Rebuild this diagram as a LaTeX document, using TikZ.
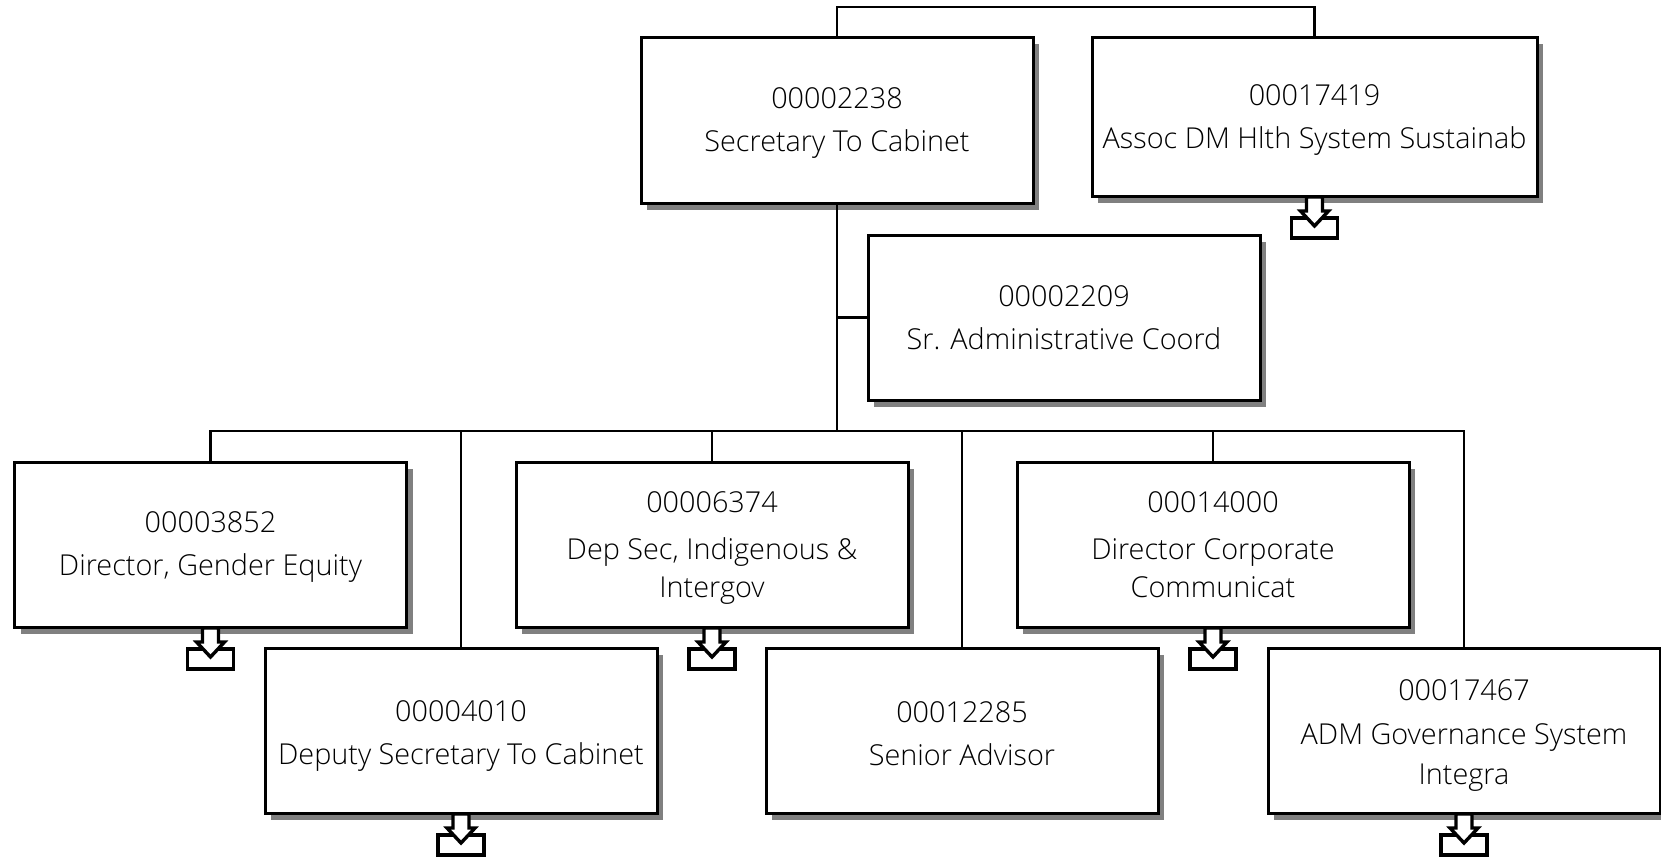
\documentclass[tikz,border=0pt]{standalone}
\usepackage{fontspec}
\setmainfont{Open Sans Light}
\usetikzlibrary{shadows}
\newcommand{\sink}[1]{\rule{0pt}{#1}}
\tikzset{
	post/.style={draw, fill=white, line width=3pt, outer sep=0pt, inner sep=0pt, align=center,
		minimum width=392pt, minimum height=165pt, font=\fontsize{28.8}{43}\selectfont,
		drop shadow={shadow xshift=6pt, shadow yshift=-6.5pt, fill=gray, opacity=1}},
	wire/.style={line width=2.8pt},
	drilldown/.pic={
		\draw[line width=3.4pt, fill=white] (-23,22) rectangle (23,42);
		\draw[line width=3.4pt, fill=white, miter limit=3] (-8,1) -- (8,1) -- (8,15) -- (14,15) -- (0,30) -- (-14,15) -- (-8,15) -- cycle;
	}
}
\begin{document}
\begin{tikzpicture}[x=1pt, y=-1pt]
\useasboundingbox (0,0) rectangle (1661,859);

\node [post] (sec) at(837,120.5) {\sink{26.6pt}00002238\\Secretary To Cabinet};
\node [post, minimum width=445pt, minimum height=158pt] (assoc) at(1314.5,117) {\sink{26.6pt}00017419\\Assoc DM Hlth System Sustainab};
\node [post] (admin) at(1064,317.5) {00002209\\Sr. Administrative Coord};

\node [post] (gender) at(210.5,544.5) {\sink{26.6pt}00003852\\Director, Gender Equity};
\node [post] (depsec) at(712,544.5) {\sink{28.6pt}00006374\\[4pt]Dep Sec, Indigenous \&\\[-5pt]Intergov};
\node [post] (comms) at(1213,544.5) {00014000\\[4pt]Director Corporate\\[-5pt]Communicat};

\node [post] (deputy) at(461,730.5) {\sink{32.6pt}00004010\\Deputy Secretary To Cabinet};
\node [post] (advisor) at(962,730.5) {\sink{26.6pt}00012285\\Senior Advisor};
\node [post] (govern) at(1464,730.5) {\sink{30.6pt}00017467\\[1pt]ADM Governance System\\[-3pt]Integra};

\coordinate (top) at (837,7);
\coordinate (bus) at (837,431);

\draw[wire] (sec.north) -- (top) -| (assoc.north);
\draw[wire] (sec.south) -- (bus);
\draw[wire] (admin.west) -| (bus);

\draw[wire] (bus) -| (gender.north);
\draw[wire] (bus) -| (deputy.north);
\draw[wire] (bus) -| (depsec.north);
\draw[wire] (bus) -| (advisor.north);
\draw[wire] (bus) -| (comms.north);
\draw[wire] (bus) -| (govern.north);

\pic at (assoc.south) {drilldown};
\pic at (gender.south) {drilldown};
\pic at (depsec.south) {drilldown};
\pic at (comms.south) {drilldown};
\pic at (deputy.south) {drilldown};
\pic at (govern.south) {drilldown};
\end{tikzpicture}
\end{document}
